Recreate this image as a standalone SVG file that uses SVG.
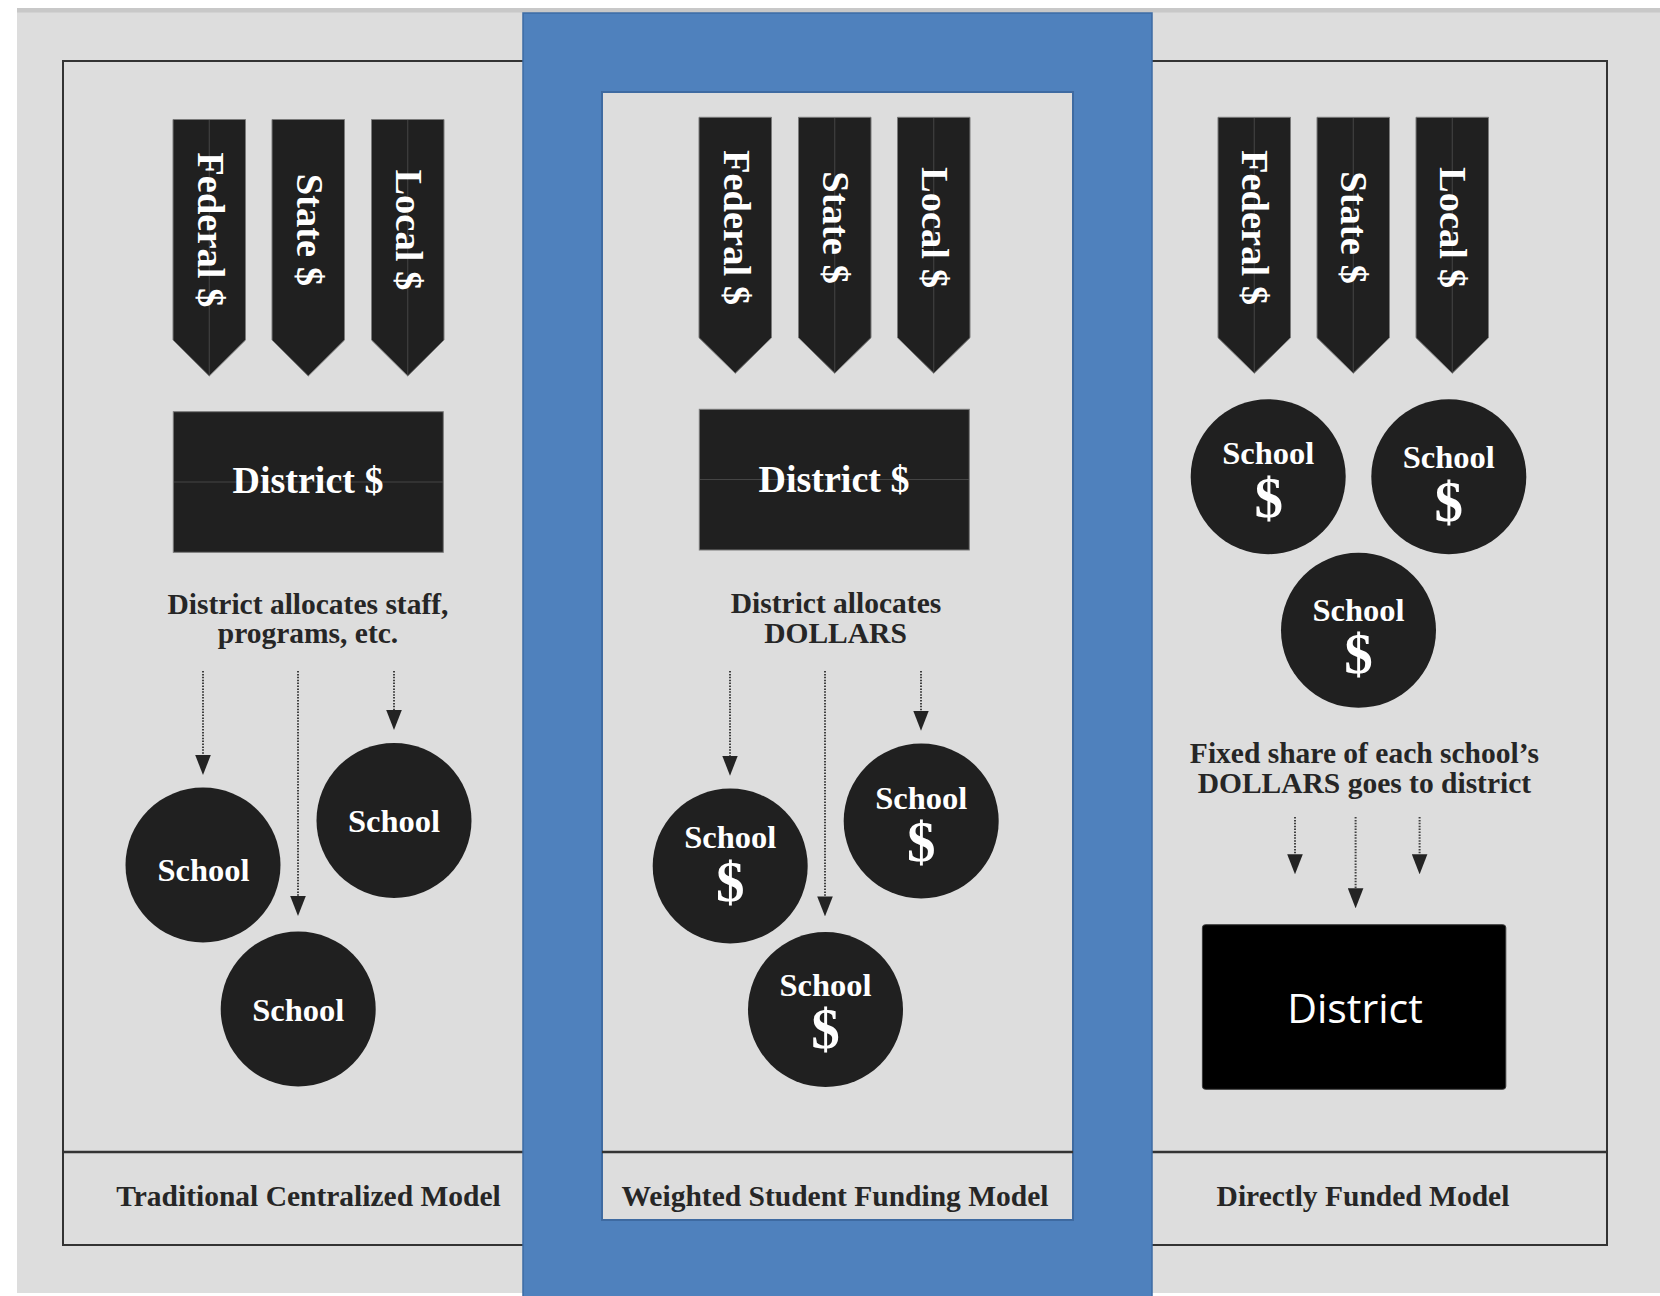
<svg xmlns="http://www.w3.org/2000/svg" width="1660" height="1296" viewBox="0 0 1660 1296">
<style>
.serif{font-family:"Liberation Serif","Times New Roman",serif;font-weight:bold}
.w{fill:#ffffff}
.k{fill:#262626}
.src{font-size:38.5px}
.dist{font-size:38px}
.desc{font-size:29.5px}
.sch{font-size:32.5px}
.dol{font-size:57px}
.lab{font-size:29.5px}
.shape{fill:#202020;stroke:#7a7a7a;stroke-width:1}
.circ{fill:#202020}
.seam{stroke:#454545;stroke-width:1;fill:none}
.dot{stroke:#404040;stroke-width:2;stroke-dasharray:1.5 1.4;fill:none}
.panel{fill:none;stroke:#333333;stroke-width:2}
</style>
<defs>
<marker id="ah" markerUnits="userSpaceOnUse" markerWidth="20" markerHeight="16" viewBox="0 -8 20 16" refX="0" refY="0" orient="auto">
<path d="M0,-7.8 L20,0 L0,7.8 Z" fill="#232323"/>
</marker>
</defs>
<rect x="0" y="0" width="1660" height="1296" fill="#ffffff"/>
<rect x="17" y="8" width="1643" height="1285" fill="#dddddd"/>
<rect x="17" y="8" width="1643" height="4.5" fill="#c8c8c8"/>
<g id="outer-panels">
<rect class="panel" x="63" y="61" width="1544" height="1184"/>
<line x1="63" y1="1152" x2="1607" y2="1152" stroke="#333333" stroke-width="2.5"/>
</g>
<g id="wsf-panel">
<rect x="523" y="13" width="629" height="1290" fill="#4f81bd" stroke="#3d6ba4" stroke-width="1.5"/>
<rect x="602" y="92" width="471" height="1128" fill="#dddddd" stroke="#3e6aa1" stroke-width="2"/>
<line x1="602" y1="1152" x2="1073" y2="1152" stroke="#333333" stroke-width="2.5"/>
</g>

<g id="l-federal">
<path class="shape" d="M173,119.5 H245.5 V340 L209.25,376 L173,340 Z"/>
<line class="seam" x1="209.25" y1="120" x2="209.25" y2="375"/>
<text class="serif w src" transform="translate(209.25,229.8) rotate(90)" x="0" y="11.5" text-anchor="middle">Federal $</text>
</g>
<g id="l-state">
<path class="shape" d="M272,119.5 H344.5 V340 L308.25,376 L272,340 Z"/>
<text class="serif w src" transform="translate(308.25,229.8) rotate(90)" x="0" y="11.5" text-anchor="middle">State $</text>
</g>
<g id="l-local">
<path class="shape" d="M371.5,119.5 H444 V340 L407.75,376 L371.5,340 Z"/>
<line class="seam" x1="407.75" y1="120" x2="407.75" y2="375"/>
<text class="serif w src" transform="translate(407.75,229.8) rotate(90)" x="0" y="11.5" text-anchor="middle">Local $</text>
</g>
<g id="l-district">
<rect class="shape" x="173.3" y="411.7" width="270" height="140.6"/>
<line class="seam" x1="174" y1="482" x2="443" y2="482"/>
<text class="serif w dist" x="308" y="493.3" text-anchor="middle">District $</text>
</g>
<g id="l-desc">
<text class="serif k desc" x="308" y="613.6" text-anchor="middle">District allocates staff,</text>
<text class="serif k desc" x="308" y="643" text-anchor="middle">programs, etc.</text>
</g>
<g id="l-school1">
<circle class="circ" cx="203" cy="865" r="77.5"/>
<text class="serif w sch" x="203.5" y="881" text-anchor="middle">School</text>
</g>
<g id="l-school2">
<circle class="circ" cx="394" cy="820.4" r="77.5"/>
<text class="serif w sch" x="394" y="832" text-anchor="middle">School</text>
</g>
<g id="l-school3">
<circle class="circ" cx="298.2" cy="1009" r="77.5"/>
<text class="serif w sch" x="298.2" y="1021" text-anchor="middle">School</text>
</g>
<g id="l-label">
<text class="serif k lab" x="308.5" y="1206" text-anchor="middle">Traditional Centralized Model</text>
</g>

<g id="m-federal">
<path class="shape" d="M699,117.3 H771.5 V337.7 L735.25,373.3 L699,337.7 Z"/>
<text class="serif w src" transform="translate(735.25,227.5) rotate(90)" x="0" y="11.5" text-anchor="middle">Federal $</text>
</g>
<g id="m-state">
<path class="shape" d="M798.5,117.3 H871 V337.7 L834.75,373.3 L798.5,337.7 Z"/>
<line class="seam" x1="834.75" y1="118" x2="834.75" y2="372"/>
<text class="serif w src" transform="translate(834.75,227.5) rotate(90)" x="0" y="11.5" text-anchor="middle">State $</text>
</g>
<g id="m-local">
<path class="shape" d="M897.5,117.3 H970 V337.7 L933.75,373.3 L897.5,337.7 Z"/>
<line class="seam" x1="933.75" y1="118" x2="933.75" y2="372"/>
<text class="serif w src" transform="translate(933.75,227.5) rotate(90)" x="0" y="11.5" text-anchor="middle">Local $</text>
</g>
<g id="m-district">
<rect class="shape" x="699.3" y="409.3" width="270" height="140.7"/>
<line class="seam" x1="700" y1="479.5" x2="969" y2="479.5"/>
<text class="serif w dist" x="834" y="492.3" text-anchor="middle">District $</text>
</g>
<g id="m-desc">
<text class="serif k desc" x="836" y="613" text-anchor="middle">District allocates</text>
<text class="serif k desc" x="835.5" y="643" text-anchor="middle">DOLLARS</text>
</g>
<g id="m-school1">
<circle class="circ" cx="730.2" cy="866" r="77.5"/>
<text class="serif w sch" x="730.2" y="847.5" text-anchor="middle">School</text>
<text class="serif w dol" x="730.2" y="901" text-anchor="middle">$</text>
</g>
<g id="m-school2">
<circle class="circ" cx="921.2" cy="821" r="77.5"/>
<text class="serif w sch" x="921.2" y="809" text-anchor="middle">School</text>
<text class="serif w dol" x="921.2" y="860.5" text-anchor="middle">$</text>
</g>
<g id="m-school3">
<circle class="circ" cx="825.5" cy="1009.6" r="77.5"/>
<text class="serif w sch" x="825.5" y="996.4" text-anchor="middle">School</text>
<text class="serif w dol" x="825.5" y="1048" text-anchor="middle">$</text>
</g>
<g id="m-label">
<text class="serif k lab" x="835" y="1206" text-anchor="middle">Weighted Student Funding Model</text>
</g>

<g id="r-federal">
<path class="shape" d="M1218,117.3 H1290.5 V337.7 L1254.25,373.3 L1218,337.7 Z"/>
<line class="seam" x1="1254.25" y1="118" x2="1254.25" y2="372"/>
<text class="serif w src" transform="translate(1254.25,227.5) rotate(90)" x="0" y="12" text-anchor="middle">Federal $</text>
</g>
<g id="r-state">
<path class="shape" d="M1317,117.3 H1389.5 V337.7 L1353.25,373.3 L1317,337.7 Z"/>
<line class="seam" x1="1353.25" y1="118" x2="1353.25" y2="372"/>
<text class="serif w src" transform="translate(1353.25,227.5) rotate(90)" x="0" y="12" text-anchor="middle">State $</text>
</g>
<g id="r-local">
<path class="shape" d="M1416,117.3 H1488.5 V337.7 L1452.25,373.3 L1416,337.7 Z"/>
<line class="seam" x1="1452.25" y1="118" x2="1452.25" y2="372"/>
<text class="serif w src" transform="translate(1452.25,227.5) rotate(90)" x="0" y="12" text-anchor="middle">Local $</text>
</g>
<g id="r-school1">
<circle class="circ" cx="1268.2" cy="476.7" r="77.5"/>
<text class="serif w sch" x="1268.2" y="464" text-anchor="middle">School</text>
<text class="serif w dol" x="1268.7" y="516.5" text-anchor="middle">$</text>
</g>
<g id="r-school2">
<circle class="circ" cx="1448.8" cy="476.7" r="77.5"/>
<text class="serif w sch" x="1448.8" y="468.3" text-anchor="middle">School</text>
<text class="serif w dol" x="1448.8" y="521" text-anchor="middle">$</text>
</g>
<g id="r-school3">
<circle class="circ" cx="1358.5" cy="630.3" r="77.5"/>
<text class="serif w sch" x="1358.5" y="620.7" text-anchor="middle">School</text>
<text class="serif w dol" x="1358.5" y="672.5" text-anchor="middle">$</text>
</g>
<g id="r-desc">
<text class="serif k desc" x="1364.4" y="763.3" text-anchor="middle">Fixed share of each school’s</text>
<text class="serif k desc" x="1364.4" y="792.7" text-anchor="middle">DOLLARS goes to district</text>
</g>
<g id="r-district">
<rect x="1202.4" y="924.7" width="303.4" height="164.6" rx="3" fill="#000000" stroke="#3a3a3a" stroke-width="1"/>
<text x="1355" y="1022.7" text-anchor="middle" fill="#ffffff" style="font-family:'Open Sans','Noto Sans','Liberation Sans',sans-serif;font-size:41px">District</text>
</g>
<g id="r-label">
<text class="serif k lab" x="1363" y="1206" text-anchor="middle">Directly Funded Model</text>
</g>

<g id="connectors">
<path class="dot" d="M203,671 V755" marker-end="url(#ah)"/>
<path class="dot" d="M298,671 V896" marker-end="url(#ah)"/>
<path class="dot" d="M394,671 V710" marker-end="url(#ah)"/>
<path class="dot" d="M730,671 V755.7" marker-end="url(#ah)"/>
<path class="dot" d="M825,671 V896.4" marker-end="url(#ah)"/>
<path class="dot" d="M921,671 V710.7" marker-end="url(#ah)"/>
<path class="dot" d="M1295,817 V854.3" marker-end="url(#ah)"/>
<path class="dot" d="M1355.6,817 V888.3" marker-end="url(#ah)"/>
<path class="dot" d="M1419.6,817 V854.3" marker-end="url(#ah)"/>
</g>
</svg>
